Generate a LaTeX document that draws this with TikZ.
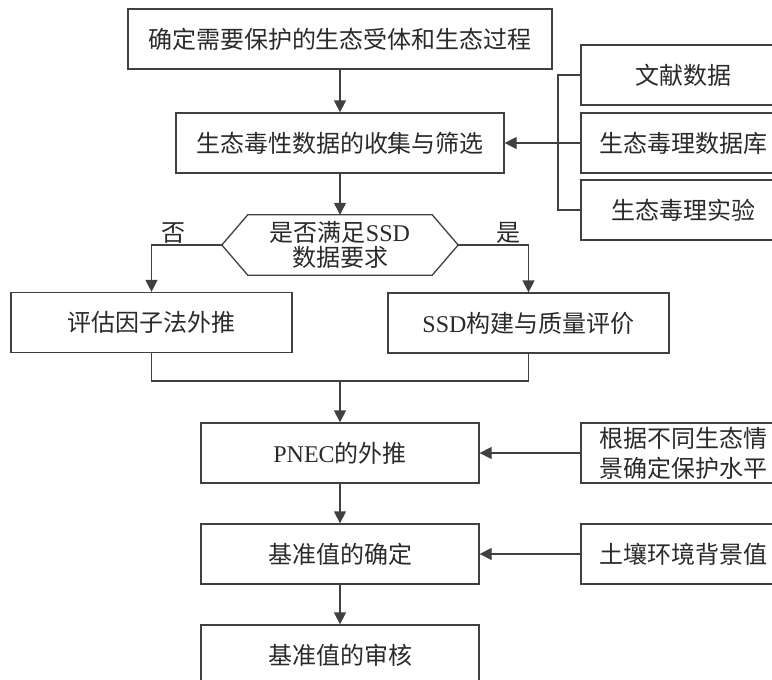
\documentclass[tikz,border=0pt]{standalone}
\usepackage{fontspec}
\setmainfont{Noto Sans CJK SC}
\newfontfamily\lat{Liberation Serif}
\usetikzlibrary{arrows.meta}
\definecolor{ln}{HTML}{404040}
\definecolor{tx}{HTML}{2A2A2A}
\tikzset{
  x=1pt, y=-1pt,
  box/.style={draw=ln, line width=1.3pt, text=tx, inner sep=0pt,
    font=\fontsize{24}{26}\selectfont, align=center},
  mainbox/.style={box, minimum width=278pt, minimum height=60pt},
  sidebox/.style={box, minimum width=204pt, minimum height=60pt},
  midbox/.style={box, minimum width=281pt, minimum height=60pt},
  conn/.style={draw=ln, line width=1.3pt},
  arr/.style={conn, -{Triangle[width=12pt,length=12pt]}},
  lbl/.style={text=tx, font=\fontsize{24}{26}\selectfont, inner sep=0pt}
}
\begin{document}
\begin{tikzpicture}
\useasboundingbox (0,0) rectangle (772,680);
\clip (0,0) rectangle (772,680);

\node[box, minimum width=424pt, minimum height=60pt] (top) at (340,39) {确定需要保护的生态受体和生态过程};
\node[box, minimum width=328pt, minimum height=60pt] (collect) at (340,143) {生态毒性数据的收集与筛选};

\node[sidebox] (r1) at (683,75) {文献数据};
\node[sidebox] (r2) at (683,143) {生态毒理数据库};
\node[sidebox] (r3) at (683,210) {生态毒理实验};

\node[minimum width=236pt, minimum height=60pt, inner sep=0pt, text=tx,
  font=\fontsize{24}{25}\selectfont, align=center] (hex) at (340,245)
  {是否满足{\lat SSD}\\数据要求};
\draw[conn] (hex.west) -- ([xshift=26pt]hex.north west) -- ([xshift=-26pt]hex.north east)
  -- (hex.east) -- ([xshift=-26pt]hex.south east) -- ([xshift=26pt]hex.south west) -- cycle;

\node[midbox] (left) at (151.5,322.5) {评估因子法外推};
\node[midbox] (ssd) at (528.5,323) {{\lat SSD}构建与质量评价};

\coordinate (merge) at (340,381);

\node[mainbox] (pnec) at (340,453) {{\lat PNEC}的外推};
\node[sidebox, font=\fontsize{24}{30}\selectfont] (r4) at (683,453) {根据不同生态情\\景确定保护水平};
\node[mainbox] (base) at (340,554) {基准值的确定};
\node[sidebox] (r5) at (683,554) {土壤环境背景值};
\node[mainbox] (audit) at (340,655) {基准值的审核};

\coordinate (brk) at (558,143);

% connectors
\draw[arr] (top.south) -- (collect.north);
\draw[arr] (r2.west) -- (collect.east);
\draw[conn] (r1.west) -| (brk) |- (r3.west);
\draw[arr] (collect.south) -- (hex.north);
\draw[arr] (hex.west) -| (left.north);
\draw[arr] (hex.east) -| (ssd.north);
\node[lbl] (no) at (173,233) {否};
\node[lbl] (yes) at (508,233) {是};
\draw[conn] (left.south) |- (merge) -| (ssd.south);
\draw[arr] (merge) -- (pnec.north);
\draw[arr] (r4.west) -- (pnec.east);
\draw[arr] (pnec.south) -- (base.north);
\draw[arr] (r5.west) -- (base.east);
\draw[arr] (base.south) -- (audit.north);
\end{tikzpicture}
\end{document}
